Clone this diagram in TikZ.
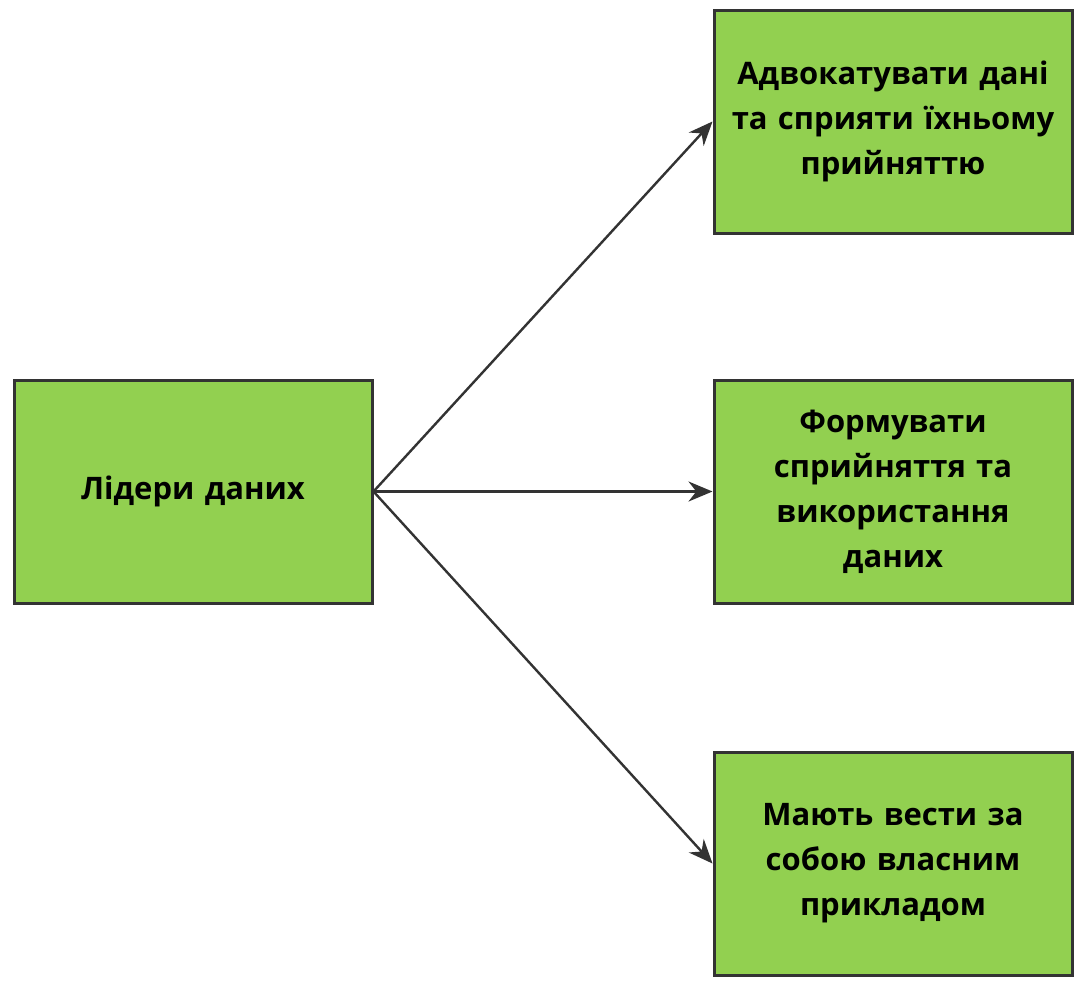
\documentclass[tikz,border=0pt]{standalone}
\usepackage{fontspec}
\setmainfont{Open Sans}
\usetikzlibrary{arrows.meta,positioning}
\definecolor{boxgreen}{HTML}{92D050}
\definecolor{linegray}{HTML}{333333}
\tikzset{
  box/.style={draw=linegray, line width=1.5pt, fill=boxgreen, minimum width=179pt,
    minimum height=111.5pt, align=center, text width=165pt,
    font=\bfseries\fontsize{15.5}{22.5}\selectfont},
  link/.style={draw=linegray, line width=1.2pt, -{Stealth[length=12pt,width=10pt]}}
}
\begin{document}
\begin{tikzpicture}[x=0.5pt,y=-0.5pt]
  \useasboundingbox (0,0) rectangle (1087,992);
  \fill[white] (0,0) rectangle (1087,992);

  \node [box] (lead) at (193,491.5) {Лідери даних};
  \node [box] (advocate) at (893,121.5) {Адвокатувати дані\\та сприяти їхньому\\прийняттю};
  \node [box] (shape) at (893,491.5) {Формувати\\сприйняття та\\використання\\даних};
  \node [box] (example) at (893,863.5) {Мають вести за\\собою власним\\прикладом};

  \draw [link] (lead.east) -- (advocate.west);
  \draw [link] (lead.east) -- (shape.west);
  \draw [link] (lead.east) -- (example.west);
\end{tikzpicture}
\end{document}
